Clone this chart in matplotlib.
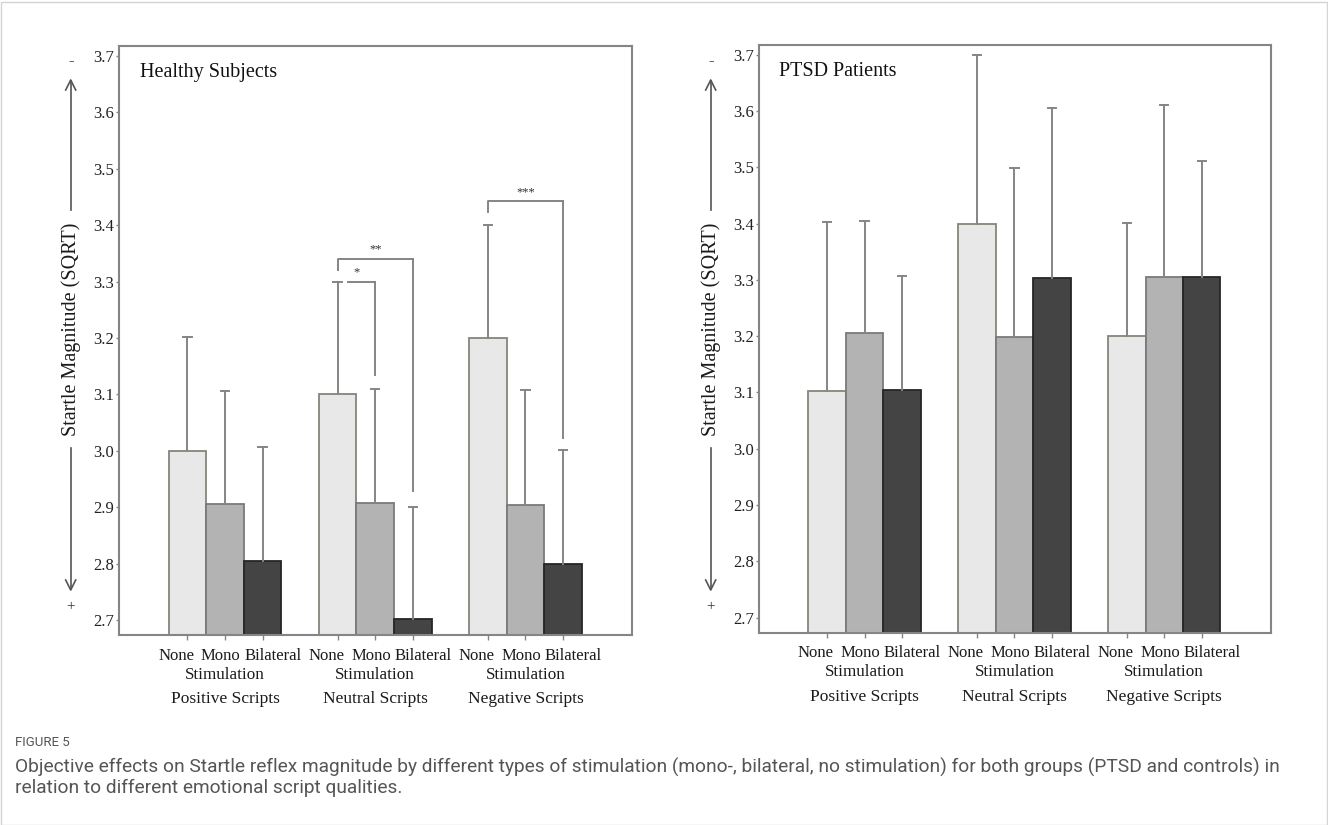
import numpy as np
import matplotlib
matplotlib.use("Agg")
from matplotlib import pyplot as plt
from matplotlib.patches import Rectangle

plt.rcParams['font.family'] = ['Liberation Serif', 'DejaVu Serif']

groups = ['Positive Scripts', 'Neutral Scripts', 'Negative Scripts']
stims = ['None', 'Mono', 'Bilateral']

# bar heights and top of the error bar, per script group (None, Mono, Bilateral)
healthy_mean = [[3.000, 2.905, 2.805], [3.100, 2.907, 2.702], [3.200, 2.904, 2.800]]
healthy_upper = [[3.202, 3.106, 3.006], [3.300, 3.110, 2.900], [3.400, 3.107, 3.001]]
ptsd_mean = [[3.102, 3.205, 3.104], [3.400, 3.198, 3.303], [3.200, 3.306, 3.306]]
ptsd_upper = [[3.403, 3.405, 3.307], [3.700, 3.498, 3.606], [3.401, 3.610, 3.512]]

# significance brackets: group, from bar, to bar, height, left leg end, right leg end, stars
healthy_brackets = [
    (1, 0, 1, 3.300, None, 3.134, '*'),
    (1, 0, 2, 3.340, 3.321, 2.928, '**'),
    (2, 0, 2, 3.442, 3.424, 3.022, '***'),
]

fills = ['#e8e8e8', '#b3b3b3', '#444444']
edges = ['#85857a', '#7a7a7a', '#262626']
gray = '#858585'
W = 0.25
label_shift = [-8, -3, 7.5]  # points, the stim labels sit spread apart


def draw_panel(ax, means, uppers, title, brackets):
    means = np.array(means)
    uppers = np.array(uppers)
    xs = []
    for g in range(len(groups)):
        for s in range(len(stims)):
            x = g + (s - 1) * W
            xs.append(x)
            ax.bar(x, means[g, s] - 2.5, bottom=2.5, width=W, color=fills[s],
                   edgecolor=edges[s], linewidth=1.3, zorder=2)
            ax.plot([x, x], [means[g, s], uppers[g, s]], color=gray, lw=1.4, zorder=3)
            ax.plot([x - 0.028, x + 0.028], [uppers[g, s]] * 2, color=gray, lw=1.4, zorder=3)
            ax.annotate(stims[s], xy=(x, 0), xycoords=('data', 'axes fraction'),
                        xytext=(label_shift[s], -14.7), textcoords='offset points',
                        ha='center', va='center', fontsize=12, color='#1a1a1a')

    for g, i, j, h, l_end, r_end, lab in brackets:
        x1 = g + (i - 1) * W
        x2 = g + (j - 1) * W
        if l_end is None:
            ax.plot([x1 + 0.07, x2], [h, h], color=gray, lw=1.4)
        else:
            ax.plot([x1, x1, x2], [l_end, h, h], color=gray, lw=1.4)
        ax.plot([x2, x2], [h, r_end], color=gray, lw=1.4)
        ax.text((x1 + x2) / 2, h + 0.006, lab, ha='center', va='bottom',
                fontsize=9, color='#333333')

    ax.set_xlim(-0.706, 2.71)
    ax.set_ylim(2.673, 3.718)
    ax.set_yticks(np.arange(2.7, 3.71, 0.1))
    ax.set_yticklabels(['%.1f' % v for v in np.arange(2.7, 3.71, 0.1)])
    ax.set_xticks(xs)
    ax.set_xticklabels([])
    ax.tick_params(axis='y', length=2.5, width=1, color=gray, pad=1,
                   labelsize=12, labelcolor='#222222')
    ax.tick_params(axis='x', length=3.5, width=1, color=gray)
    for sp in ax.spines.values():
        sp.set_color(gray)
        sp.set_linewidth(1.5)

    for g, name in enumerate(groups):
        ax.annotate('Stimulation', xy=(g, 0), xycoords=('data', 'axes fraction'),
                    xytext=(0, -28.6), textcoords='offset points', ha='center',
                    va='center', fontsize=12.3, color='#1a1a1a')
        ax.annotate(name, xy=(g, 0), xycoords=('data', 'axes fraction'),
                    xytext=(0, -46), textcoords='offset points', ha='center',
                    va='center', fontsize=12.5, color='#1a1a1a')

    ax.text(0.04, 0.955, title, transform=ax.transAxes, ha='left', va='center',
            fontsize=14.5, color='#111111')


fig = plt.figure(figsize=(13.28, 8.25), dpi=100)
H = 825.0
WD = 1328.0

ax1 = fig.add_axes([119 / WD, 1 - 635.3 / H, 513 / WD, 589.6 / H])
ax2 = fig.add_axes([758.7 / WD, 1 - 632.7 / H, 512 / WD, 588 / H])

draw_panel(ax1, healthy_mean, healthy_upper, 'Healthy Subjects', healthy_brackets)
draw_panel(ax2, ptsd_mean, ptsd_upper, 'PTSD Patients', [])

# y axis label with direction arrows, drawn in figure pixels
for ax_x in [70.7, 710.7]:
    fx = ax_x / WD
    fig.text(fx, 1 - 329 / H, 'Startle Magnitude (SQRT)', rotation=90,
             ha='center', va='center', fontsize=14.5, color='#1a1a1a')
    fig.text(fx, 1 - 61 / H, '-', ha='center', va='center', fontsize=12, color='#333333')
    fig.text(fx, 1 - 607 / H, '+', ha='center', va='center', fontsize=11, color='#333333')
    fig.add_artist(plt.Line2D([fx, fx], [1 - 210 / H, 1 - 81 / H], color='#555555', lw=1.2))
    fig.add_artist(plt.Line2D([fx, fx], [1 - 448 / H, 1 - 589 / H], color='#555555', lw=1.2))
    fig.add_artist(plt.Line2D([fx - 5 / WD, fx, fx + 5 / WD],
                              [1 - 90 / H, 1 - 80 / H, 1 - 90 / H], color='#555555', lw=1.2))
    fig.add_artist(plt.Line2D([fx - 5 / WD, fx, fx + 5 / WD],
                              [1 - 580 / H, 1 - 590 / H, 1 - 580 / H], color='#555555', lw=1.2))

cap_font = ['Roboto', 'DejaVu Sans']
fig.text(15 / WD, 1 - 743 / H, 'FIGURE 5', ha='left', va='center', fontsize=9.5,
         color='#555555', family=cap_font)
fig.text(15 / WD, 1 - 767 / H,
         'Objective effects on Startle reflex magnitude by different types of stimulation '
         '(mono-, bilateral, no stimulation) for both groups (PTSD and controls) in',
         ha='left', va='center', fontsize=13.8, color='#555555', family=cap_font)
fig.text(15 / WD, 1 - 788 / H, 'relation to different emotional script qualities.',
         ha='left', va='center', fontsize=13.8, color='#555555', family=cap_font)

fig.add_artist(Rectangle((0.5 / WD, 0.5 / H), 1 - 2 / WD, 1 - 2 / H, transform=fig.transFigure,
                         fill=False, edgecolor='#d4d4d4', lw=1))

fig.savefig('out.png', dpi=100)
